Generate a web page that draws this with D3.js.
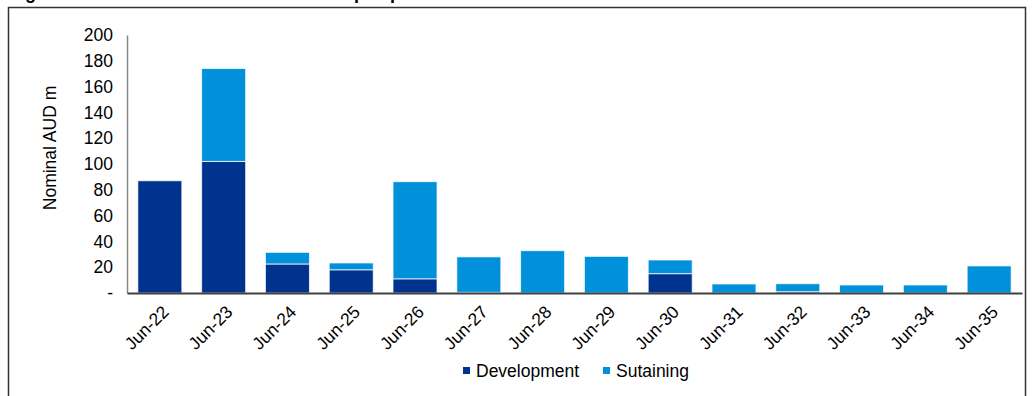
<!DOCTYPE html>
<html>
<head>
<meta charset="utf-8">
<script src="https://cdn.jsdelivr.net/npm/d3@7"></script>
<style>
  html, body { margin: 0; padding: 0; background: #fff; }
  svg { display: block; font-family: "Liberation Sans", Arial, sans-serif; }
</style>
</head>
<body>
<svg id="chart" width="1034" height="396"></svg>
<script>
const categories = ["Jun-22","Jun-23","Jun-24","Jun-25","Jun-26","Jun-27","Jun-28","Jun-29","Jun-30","Jun-31","Jun-32","Jun-33","Jun-34","Jun-35"];
const development = [87, 102, 22.5, 18, 11, 0.5, 0, 0, 15, 0, 1, 0, 0, 0];
const sustaining  = [0, 72, 9, 5.3, 75.3, 27.5, 32.8, 28.4, 10.6, 7, 6.2, 6.2, 6.2, 21];
const yTicks = [0, 20, 40, 60, 80, 100, 120, 140, 160, 180, 200];
const seriesNames = ["Development", "Sutaining"];
const colors = ["#00338D", "#0091DA"];
const titleText = "Figure 6: Estimated total annual mine capex profile";

const svg = d3.select("#chart");

// outer frame
svg.append("rect").attr("x", 8.5).attr("y", 7.5).attr("width", 1017).attr("height", 420)
  .attr("fill", "none").attr("stroke", "#333").attr("stroke-width", 1.5);

// title (clipped at top in the reference)
svg.append("text").attr("x", 9).attr("y", -1)
  .attr("font-size", 18).attr("font-weight", "bold").attr("fill", "#000").text(titleText);

const x = d3.scaleBand().domain(categories).range([127, 1022]).paddingInner(0.31).paddingOuter(0.17);
const y = d3.scaleLinear().domain([0, 200]).range([293, 35]);

const table = categories.map((c, i) => ({ cat: c, Development: development[i], Sutaining: sustaining[i] }));
const stacked = d3.stack().keys(seriesNames)(table);

const g = svg.append("g");
stacked.forEach((s, si) => {
  g.selectAll(null).data(s.filter(d => d[1] - d[0] > 0)).enter().append("rect")
    .attr("x", d => x(d.data.cat))
    .attr("y", d => y(d[1]))
    .attr("width", x.bandwidth())
    .attr("height", d => y(d[0]) - y(d[1]))
    .attr("fill", colors[si])
    .attr("stroke", "#fff").attr("stroke-opacity", 0.75).attr("stroke-width", 1);
});

// y axis
const yAxis = d3.axisLeft(y).tickValues(yTicks).tickSize(0).tickPadding(14)
  .tickFormat(d => d === 0 ? "-" : d);
const ya = svg.append("g").attr("transform", "translate(127,0)").call(yAxis);
ya.select(".domain").attr("stroke", "#888").attr("stroke-width", 1.5);
ya.selectAll("text").attr("font-size", 17.5).attr("fill", "#000").attr("font-family", "Liberation Sans, Arial, sans-serif");

// x axis
const xAxis = d3.axisBottom(x).tickSize(0).tickSizeOuter(0);
const xa = svg.append("g").attr("transform", "translate(0,293)").call(xAxis);
xa.select(".domain").attr("stroke", "#404040").attr("stroke-width", 2);
xa.selectAll("text")
  .attr("font-size", 17.5).attr("fill", "#000").attr("font-family", "Liberation Sans, Arial, sans-serif")
  .attr("text-anchor", "end").attr("dy", 0).attr("y", 0)
  .attr("transform", "translate(10,20) rotate(-45)");

// y title
svg.append("text").attr("transform", "translate(56,148) rotate(-90)")
  .attr("text-anchor", "middle").attr("font-size", 17.5).attr("fill", "#000").text("Nominal AUD m");

// legend
const legendX = [463, 603];
seriesNames.forEach((n, i) => {
  svg.append("rect").attr("x", legendX[i]).attr("y", 367).attr("width", 7).attr("height", 7).attr("fill", colors[i]);
  svg.append("text").attr("x", legendX[i] + 13).attr("y", 377).attr("font-size", 17.5).attr("fill", "#000").text(n);
});
</script>
</body>
</html>
